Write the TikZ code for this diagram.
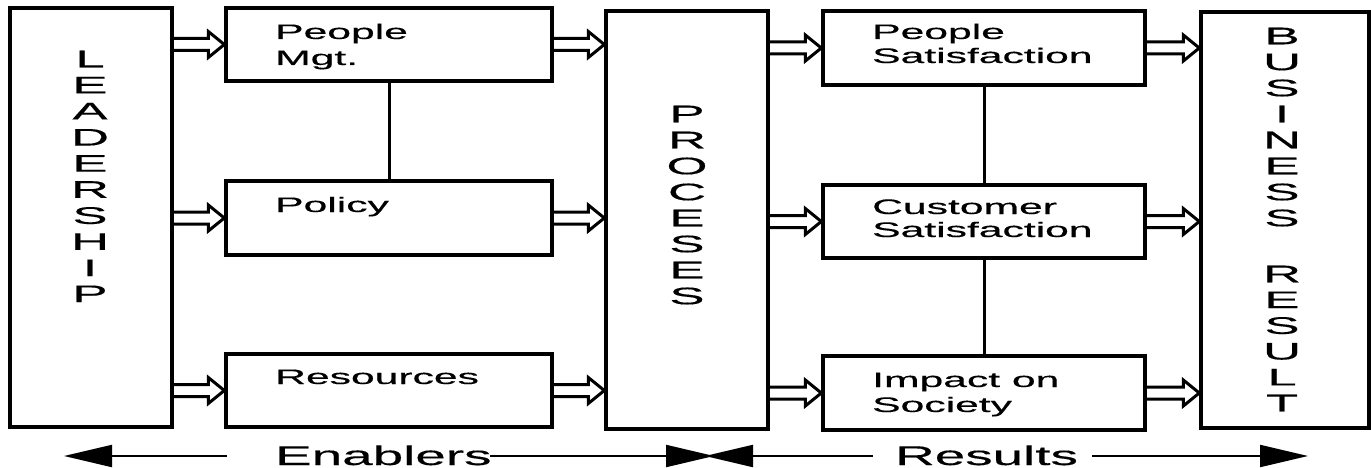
\documentclass[tikz,border=0pt]{standalone}
\usepackage{fontspec}
\usepackage{graphicx}
\setmainfont{Liberation Sans}[FakeBold=0.3]
\usetikzlibrary{arrows.meta,calc}
% horizontally extended lettering
\newcommand{\xw}[1]{\scalebox{2.03}[1]{#1}}
\newcommand{\xwl}[1]{\scalebox{2.2}[1]{#1}}

\begin{document}
\begin{tikzpicture}[x=1pt,y=-1pt,
  box/.style={draw, line width=3.4pt, inner sep=0pt},
  lbl/.style={anchor=base west, inner sep=0pt, font=\fontsize{21}{25}\selectfont},
  letter/.style={inner sep=0pt, font=\fontsize{24}{26}\selectfont},
  link/.style={line width=3pt},
  hollow/.style={line width=3pt, line join=miter,
    to path={let \p1=(\tikztostart), \p2=(\tikztotarget) in
      (\x1,\y1+6pt) -- (\x2-16pt,\y2+6pt) -- (\x2-16pt,\y2+13pt) -- (\x2,\y2)
      -- (\x2-16pt,\y2-13pt) -- (\x2-16pt,\y2-6pt) -- (\x1,\y1-6pt)}},
  span/.style={line width=2pt, -{Triangle[length=48pt,width=22pt]}},
  caption/.style={anchor=base west, inner sep=0pt, font=\fontsize{27}{30}\selectfont},
]
\useasboundingbox (0,0) rectangle (1371,468);

% boxes
\node[box, minimum width=162pt, minimum height=419pt] (lead) at (91,217.5) {};
\node[box, minimum width=326pt, minimum height=73pt] (pm)  at (389,44.5) {};
\node[box, minimum width=326pt, minimum height=74pt] (pol) at (389,218) {};
\node[box, minimum width=326pt, minimum height=73pt] (res) at (389,390.5) {};
\node[box, minimum width=162pt, minimum height=418pt] (proc) at (687,220) {};
\node[box, minimum width=322pt, minimum height=74pt] (ps) at (984,48) {};
\node[box, minimum width=322pt, minimum height=73pt] (cs) at (984,221.5) {};
\node[box, minimum width=322pt, minimum height=74pt] (is) at (984,393) {};
\node[box, minimum width=168pt, minimum height=416pt] (br) at (1285,220) {};

% box labels
\node[lbl] (pm-a) at (275,39) {\xw{People}};
\node[lbl] (pm-b) at (275,65) {\xw{Mgt.}};
\node[lbl] (pol-a) at (275,212) {\xw{Policy}};
\node[lbl] (res-a) at (275,384) {\xw{Resources}};
\node[lbl] (ps-a) at (872,39) {\xw{People}};
\node[lbl] (ps-b) at (872,63) {\xw{Satisfaction}};
\node[lbl] (cs-a) at (872,214) {\xw{Customer}};
\node[lbl] (cs-b) at (872,237) {\xw{Satisfaction}};
\node[lbl] (is-a) at (872,387) {\xw{Impact on}};
\node[lbl] (is-b) at (872,412) {\xw{Society}};

% vertical lettering
\foreach \ch [count=\i] in {L,E,A,D,E,R,S,H,I,P}
  \node[letter] (lead-\i) at (90,{59+26.1*(\i-1)}) {\xwl{\ch}};
\foreach \ch [count=\i] in {P,R,O,C,E,S,E,S}
  \node[letter] (proc-\i) at (687,{114+26*(\i-1)}) {\xwl{\ch}};
\foreach \ch [count=\i] in {B,U,S,I,N,E,S,S}
  \node[letter] (biz-\i) at (1282,{36+26*(\i-1)}) {\xwl{\ch}};
\foreach \ch [count=\i] in {R,E,S,U,L,T}
  \node[letter] (rsl-\i) at (1282,{274+25.8*(\i-1)}) {\xwl{\ch}};

% plain links within the columns
\draw[link] (pm.south) -- (pol.north);
\draw[link] (ps.south) -- (cs.north);
\draw[link] (cs.south) -- (is.north);

% hollow flow arrows
\draw[hollow] (pm.west -| lead.east) to (pm.west);
\draw[hollow] (pol.west -| lead.east) to (pol.west);
\draw[hollow] (res.west -| lead.east) to (res.west);
\draw[hollow] (pm.east) to (pm.east -| proc.west);
\draw[hollow] (pol.east) to (pol.east -| proc.west);
\draw[hollow] (res.east) to (res.east -| proc.west);
\draw[hollow] (ps.west -| proc.east) to (ps.west);
\draw[hollow] (cs.west -| proc.east) to (cs.west);
\draw[hollow] (is.west -| proc.east) to (is.west);
\draw[hollow] (ps.east) to (ps.east -| br.west);
\draw[hollow] (cs.east) to (cs.east -| br.west);
\draw[hollow] (is.east) to (is.east -| br.west);

% span captions
\node[caption] (enab) at (275,465) {\xw{Enablers}};
\node[caption] (rslt) at (895,465) {\xw{Results}};
\coordinate (e0) at (64,456);
\coordinate (e1) at (227,456);
\coordinate (e2) at (490,456);
\coordinate (e3) at (714,456);
\coordinate (r0) at (705,456);
\coordinate (r1) at (873,456);
\coordinate (r2) at (1092,456);
\coordinate (r3) at (1308,456);
\draw[span] (e1) -- (e0);
\draw[span] (e2) -- (e3);
\draw[span] (r1) -- (r0);
\draw[span] (r2) -- (r3);
\end{tikzpicture}
\end{document}
